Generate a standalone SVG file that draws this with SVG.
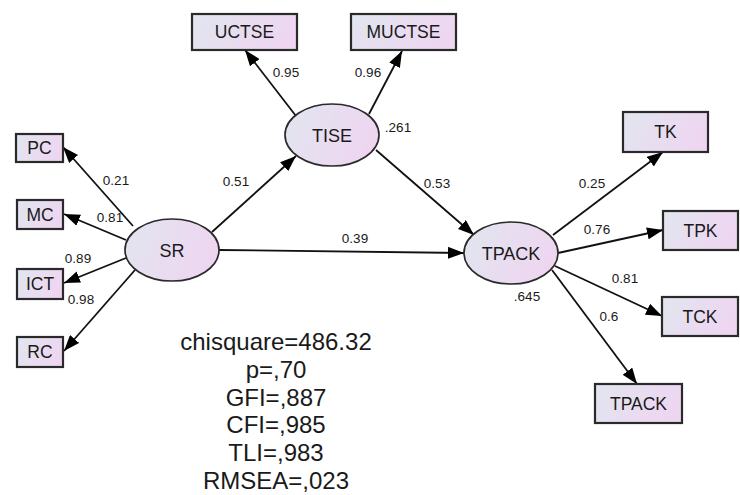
<svg xmlns="http://www.w3.org/2000/svg" width="740" height="495" viewBox="0 0 740 495">
<style>
.box{fill:url(#g);stroke:#2a2a2a;stroke-width:2.2}
.ell{fill:url(#g);stroke:#2a2a2a;stroke-width:1.7}
.nt{font-family:"Liberation Sans",Arial,sans-serif;font-size:17.5px;fill:#1a1a1a;text-anchor:middle}
.et{font-family:"Liberation Sans",Arial,sans-serif;font-size:18px;fill:#1a1a1a;text-anchor:middle}
.lb{font-family:"Liberation Sans",Arial,sans-serif;font-size:13.5px;fill:#1a1a1a;text-anchor:middle}
.st{font-family:"Liberation Sans",Arial,sans-serif;font-size:24px;fill:#1a1a1a;text-anchor:middle}
.cn line{stroke:#111;stroke-width:1.8;marker-end:url(#ah)}
</style>
<defs>
<linearGradient id="g" x1="0" y1="0" x2="1" y2="0.3">
<stop offset="0" stop-color="#e1e6ef"/>
<stop offset="1" stop-color="#eed6f1"/>
</linearGradient>
<marker id="ah" markerUnits="userSpaceOnUse" markerWidth="16" markerHeight="12" refX="16" refY="6" orient="auto">
<path d="M0,0 L16,6 L0,12 z" fill="#000"/>
</marker>
</defs>
<rect width="740" height="495" fill="#fff"/>
<g id="connectors" class="cn">
<line x1="133" y1="226" x2="63" y2="147"/>
<line x1="126" y1="240" x2="64" y2="214"/>
<line x1="126" y1="258" x2="64" y2="283"/>
<line x1="135" y1="270" x2="64" y2="351"/>
<line x1="212" y1="232" x2="296" y2="156"/>
<line x1="219" y1="250" x2="464" y2="253"/>
<line x1="296" y1="116" x2="245" y2="50"/>
<line x1="369" y1="114" x2="402" y2="51"/>
<line x1="376" y1="150" x2="474" y2="235"/>
<line x1="553" y1="235" x2="663" y2="152"/>
<line x1="558" y1="253" x2="663" y2="230"/>
<line x1="555" y1="266" x2="662" y2="316"/>
<line x1="552" y1="270" x2="637" y2="384"/>
</g>
<g id="labels">
<text class="lb" x="116" y="185">0.21</text>
<text class="lb" x="110" y="222">0.81</text>
<text class="lb" x="78" y="263">0.89</text>
<text class="lb" x="81" y="304">0.98</text>
<text class="lb" x="236" y="186">0.51</text>
<text class="lb" x="286" y="77">0.95</text>
<text class="lb" x="368" y="77">0.96</text>
<text class="lb" x="398" y="132">.261</text>
<text class="lb" x="437" y="188">0.53</text>
<text class="lb" x="355" y="243">0.39</text>
<text class="lb" x="592" y="188">0.25</text>
<text class="lb" x="597" y="234">0.76</text>
<text class="lb" x="625" y="283">0.81</text>
<text class="lb" x="527" y="301">.645</text>
<text class="lb" x="609" y="321">0.6</text>
</g>
<g id="UCTSE"><rect class="box" x="192" y="14" width="105" height="36"/><text class="nt" x="244.5" y="38">UCTSE</text></g>
<g id="MUCTSE"><rect class="box" x="351" y="14" width="105" height="36"/><text class="nt" x="403.5" y="38">MUCTSE</text></g>
<g id="PC"><rect class="box" x="16" y="134" width="47" height="28"/><text class="nt" x="39.5" y="154">PC</text></g>
<g id="MC"><rect class="box" x="17" y="200" width="46" height="29"/><text class="nt" x="40" y="220.5">MC</text></g>
<g id="ICT"><rect class="box" x="17" y="269" width="46" height="30"/><text class="nt" x="40" y="290">ICT</text></g>
<g id="RC"><rect class="box" x="17" y="337" width="46" height="30"/><text class="nt" x="40" y="358">RC</text></g>
<g id="TK"><rect class="box" x="623" y="112" width="85" height="40"/><text class="nt" x="665.5" y="138">TK</text></g>
<g id="TPK"><rect class="box" x="663" y="211" width="75" height="39"/><text class="nt" x="700.5" y="236.5">TPK</text></g>
<g id="TCK"><rect class="box" x="662" y="297" width="76" height="39"/><text class="nt" x="700" y="322.5">TCK</text></g>
<g id="TPACK_obs"><rect class="box" x="595" y="384" width="87" height="39"/><text class="nt" x="638.5" y="409.5">TPACK</text></g>
<g id="SR"><ellipse class="ell" cx="172" cy="250" rx="47" ry="31"/><text class="et" x="172" y="256.5">SR</text></g>
<g id="TISE"><ellipse class="ell" cx="332" cy="135" rx="47" ry="31"/><text class="et" x="332" y="141.5">TISE</text></g>
<g id="TPACK"><ellipse class="ell" cx="511" cy="253" rx="47" ry="31"/><text class="et" x="511" y="259.5">TPACK</text></g>
<g id="fit">
<text class="st" x="276" y="350">chisquare=486.32</text>
<text class="st" x="276" y="378">p=,70</text>
<text class="st" x="276" y="406">GFI=,887</text>
<text class="st" x="276" y="433">CFI=,985</text>
<text class="st" x="276" y="461">TLI=,983</text>
<text class="st" x="276" y="489">RMSEA=,023</text>
</g>
</svg>
